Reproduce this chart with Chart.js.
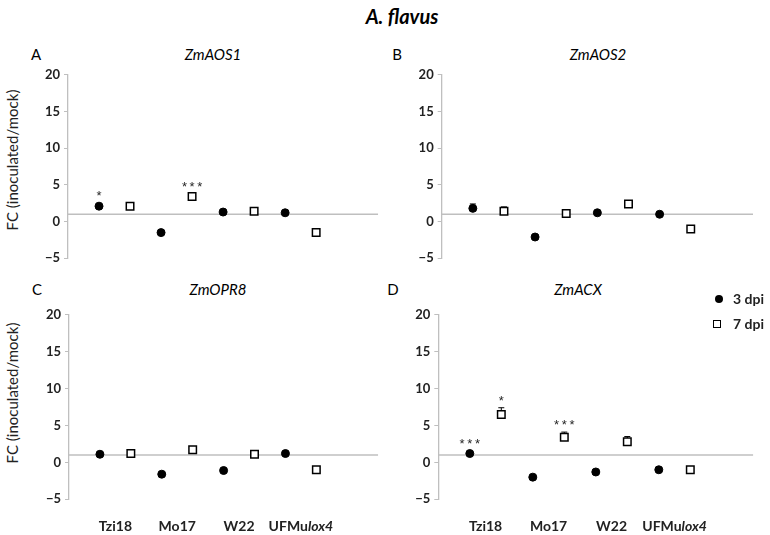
<!DOCTYPE html>
<html lang="en">
<head>
  <meta charset="UTF-8" />
  <title>A. flavus</title>
  <script src="https://cdn.jsdelivr.net/npm/chart.js"></script>
  <style>
    body {
      margin: 0;
      background: #fff;
      font-family: Lato, Arial, sans-serif;
    }
    .page {
      position: relative;
      width: 770px;
      height: 535px;
    }
    .panel {
      position: absolute;
    }
    .txt {
      position: absolute;
      white-space: nowrap;
      color: #000;
      transform: translate(-50%, -50%);
      line-height: 1;
    }
    .main-title { font-size: 20px; font-weight: bold; font-style: italic; }
    .letter { font-size: 15px; }
    .gene { font-size: 15px; font-style: italic; }
    .ytitle { font-size: 15px; transform: translate(-50%, -50%) rotate(-90deg); color: #222; }
    .legend { position: absolute; font-size: 14px; font-weight: bold; color: #222; white-space: nowrap; }
    .legend span.mk { position: absolute; box-sizing: border-box; }
    .legend span.lb { position: absolute; transform: translateY(-50%); line-height: 1; white-space: nowrap; }
  </style>
</head>
<body>
<div class="page">
  <div class="txt main-title" style="left:402px; top:16px;">A. flavus</div>

  <div class="txt letter" style="left:36px; top:54px;">A</div>
  <div class="txt gene" style="left:213px; top:54px;">ZmAOS1</div>
  <div class="txt letter" style="left:397px; top:54px;">B</div>
  <div class="txt gene" style="left:598px; top:54px;">ZmAOS2</div>
  <div class="txt letter" style="left:37px; top:289px;">C</div>
  <div class="txt gene" style="left:218px; top:289px;">ZmOPR8</div>
  <div class="txt letter" style="left:393px; top:289px;">D</div>
  <div class="txt gene" style="left:578px; top:289px;">ZmACX</div>

  <div class="txt ytitle" style="left:12px; top:160px;">FC (inoculated/mock)</div>
  <div class="txt ytitle" style="left:12px; top:393px;">FC (inoculated/mock)</div>

  <canvas class="panel" id="chartA" width="385" height="250" style="left:0; top:30px;"></canvas>
  <canvas class="panel" id="chartB" width="385" height="250" style="left:385px; top:30px;"></canvas>
  <canvas class="panel" id="chartC" width="385" height="255" style="left:0; top:280px;"></canvas>
  <canvas class="panel" id="chartD" width="385" height="255" style="left:385px; top:280px;"></canvas>

  <div class="legend" style="left:0; top:0; width:770px; height:535px; pointer-events:none;">
    <span class="mk" style="left:715px; top:295px; width:8px; height:8px; border-radius:50%; background:#000;"></span>
    <span class="lb" style="left:733px; top:299px;">3 dpi</span>
    <span class="mk" style="left:713px; top:320px; width:8px; height:8px; border:1.5px solid #000; background:#fff;"></span>
    <span class="lb" style="left:733px; top:324px;">7 dpi</span>
  </div>
</div>

<script>
  // genotypes on the x axis
  const genotypes = ['Tzi18', 'Mo17', 'W22', 'UFMulox4'];
  const yTicks = [-5, 0, 5, 10, 15, 20];
  const baselineFC = 1;

  // ZmAOS1
  const aos1_3dpi = [2.1, -1.5, 1.3, 1.2];
  const aos1_7dpi = [2.1, 3.4, 1.4, -1.5];
  const aos1_err3 = [0, 0, 0, 0];
  const aos1_err7 = [0, 0, 0, 0];
  const aos1_sig3 = ['*', '', '', ''];
  const aos1_sig7 = ['', '***', '', ''];

  // ZmAOS2
  const aos2_3dpi = [1.8, -2.1, 1.2, 1.0];
  const aos2_7dpi = [1.4, 1.1, 2.4, -1.0];
  const aos2_err3 = [0.6, 0, 0, 0];
  const aos2_err7 = [0.6, 0, 0, 0];
  const aos2_sig3 = ['', '', '', ''];
  const aos2_sig7 = ['', '', '', ''];

  // ZmOPR8
  const opr8_3dpi = [1.1, -1.6, -1.1, 1.2];
  const opr8_7dpi = [1.2, 1.7, 1.1, -1.0];
  const opr8_err3 = [0, 0, 0, 0];
  const opr8_err7 = [0, 0, 0, 0];
  const opr8_sig3 = ['', '', '', ''];
  const opr8_sig7 = ['', '', '', ''];

  // ZmACX
  const acx_3dpi = [1.2, -2.0, -1.3, -1.0];
  const acx_7dpi = [6.5, 3.4, 2.8, -1.0];
  const acx_err3 = [0, 0, 0, 0];
  const acx_err7 = [0.9, 0.7, 0.7, 0];
  const acx_sig3 = ['***', '', '', ''];
  const acx_sig7 = ['*', '***', '', ''];

  const FONT = 'Lato, Arial, sans-serif';
  const AXIS_GREY = '#bfbfbf';

  function makePanel(id, p) {
    const series = [
      { vals: p.d3, errs: p.e3, sig: p.s3, off: 1 },
      { vals: p.d7, errs: p.e7, sig: p.s7, off: 2 }
    ];

    // error bars (under the markers), stars and genotype labels
    const marks = {
      id: 'marks_' + id,
      beforeDatasetsDraw(chart) {
        const { ctx, scales: { x, y } } = chart;
        ctx.save();
        ctx.strokeStyle = '#000';
        ctx.lineWidth = 1;
        series.forEach(s => {
          s.vals.forEach((v, i) => {
            if (!s.errs[i]) return;
            const px = x.getPixelForValue(2 * i + s.off);
            const top = y.getPixelForValue(v + s.errs[i]);
            ctx.beginPath();
            ctx.moveTo(px, y.getPixelForValue(v));
            ctx.lineTo(px, top);
            ctx.moveTo(px - 3, top);
            ctx.lineTo(px + 3, top);
            ctx.stroke();
          });
        });
        ctx.restore();
      },
      afterDatasetsDraw(chart) {
        const { ctx, scales: { x, y }, chartArea } = chart;
        ctx.save();
        ctx.fillStyle = '#262626';
        ctx.font = '13px "Liberation Sans", Arial, sans-serif';
        ctx.textAlign = 'center';
        ctx.textBaseline = 'alphabetic';
        series.forEach(s => {
          s.vals.forEach((v, i) => {
            if (!s.sig[i]) return;
            const px = x.getPixelForValue(2 * i + s.off);
            const py = y.getPixelForValue(v);
            let base = py - 6;
            if (s.errs[i]) base = Math.min(base, y.getPixelForValue(v + s.errs[i]) - 3);
            ctx.fillText(s.sig[i].split('').join('\u2009'), px, base);
          });
        });

        if (p.showCats) {
          ctx.fillStyle = '#222';
          ctx.textBaseline = 'middle';
          ctx.textAlign = 'left';
          const ly = chartArea.bottom + 27;
          genotypes.forEach((g, i) => {
            const cx = x.getPixelForValue(2 * i + 1.5);
            const k = g.indexOf('lox4');
            const head = k >= 0 ? g.slice(0, k) : g;
            const tail = k >= 0 ? g.slice(k) : '';
            ctx.font = 'bold 14px ' + FONT;
            const w1 = ctx.measureText(head).width;
            ctx.font = 'italic bold 14px ' + FONT;
            const w2 = tail ? ctx.measureText(tail).width : 0;
            const x0 = cx - (w1 + w2) / 2;
            ctx.font = 'bold 14px ' + FONT;
            ctx.fillText(head, x0, ly);
            if (tail) {
              ctx.font = 'italic bold 14px ' + FONT;
              ctx.fillText(tail, x0 + w1, ly);
            }
          });
        }
        ctx.restore();
      }
    };

    return new Chart(document.getElementById(id), {
      type: 'scatter',
      data: {
        datasets: [
          {
            label: '3 dpi',
            data: p.d3.map((v, i) => ({ x: 2 * i + 1, y: v })),
            pointStyle: 'circle',
            pointRadius: 4,
            pointBackgroundColor: '#000',
            pointBorderColor: '#000',
            pointBorderWidth: 1,
            order: 1
          },
          {
            label: '7 dpi',
            data: p.d7.map((v, i) => ({ x: 2 * i + 2, y: v })),
            pointStyle: 'rect',
            pointRadius: 5.3,
            pointBackgroundColor: '#fff',
            pointBorderColor: '#000',
            pointBorderWidth: 1.5,
            order: 0
          },
          {
            type: 'line',
            label: 'FC = 1',
            data: [{ x: 0, y: baselineFC }, { x: 10, y: baselineFC }],
            borderColor: AXIS_GREY,
            borderWidth: 1.3,
            pointRadius: 0,
            order: 10
          }
        ]
      },
      options: {
        responsive: false,
        animation: false,
        events: [],
        layout: {
          padding: { left: 0, right: p.padR, top: p.padT, bottom: p.padB }
        },
        plugins: {
          legend: { display: false },
          tooltip: { enabled: false }
        },
        scales: {
          x: {
            type: 'linear',
            display: false,
            min: 0,
            max: 10
          },
          y: {
            min: yTicks[0],
            max: yTicks[yTicks.length - 1],
            afterBuildTicks(scale) {
              scale.ticks = yTicks.map(v => ({ value: v }));
            },
            afterFit(scale) {
              scale.width = p.axisX;
            },
            border: { display: true, color: AXIS_GREY, width: 1.3 },
            grid: {
              display: true,
              drawOnChartArea: false,
              drawTicks: true,
              tickLength: 4,
              color: AXIS_GREY
            },
            ticks: {
              padding: 4,
              color: '#222',
              font: { family: FONT, size: 13, weight: 'bold' },
              callback: v => (v < 0 ? '\u2212' + Math.abs(v) : String(v))
            }
          }
        }
      },
      plugins: [marks]
    });
  }

  makePanel('chartA', {
    d3: aos1_3dpi, d7: aos1_7dpi, e3: aos1_err3, e7: aos1_err7, s3: aos1_sig3, s7: aos1_sig7,
    axisX: 68, padR: 5, padT: 44.7, padB: 21.7, showCats: false
  });
  makePanel('chartB', {
    d3: aos2_3dpi, d7: aos2_7dpi, e3: aos2_err3, e7: aos2_err7, s3: aos2_sig3, s7: aos2_sig7,
    axisX: 56.7, padR: 17, padT: 44.7, padB: 21.7, showCats: false
  });
  makePanel('chartC', {
    d3: opr8_3dpi, d7: opr8_7dpi, e3: opr8_err3, e7: opr8_err7, s3: opr8_sig3, s7: opr8_sig7,
    axisX: 69, padR: 5, padT: 34.7, padB: 35.7, showCats: true
  });
  makePanel('chartD', {
    d3: acx_3dpi, d7: acx_7dpi, e3: acx_err3, e7: acx_err7, s3: acx_sig3, s7: acx_sig7,
    axisX: 53.3, padR: 16.7, padT: 34.7, padB: 35.7, showCats: true
  });
</script>
</body>
</html>
